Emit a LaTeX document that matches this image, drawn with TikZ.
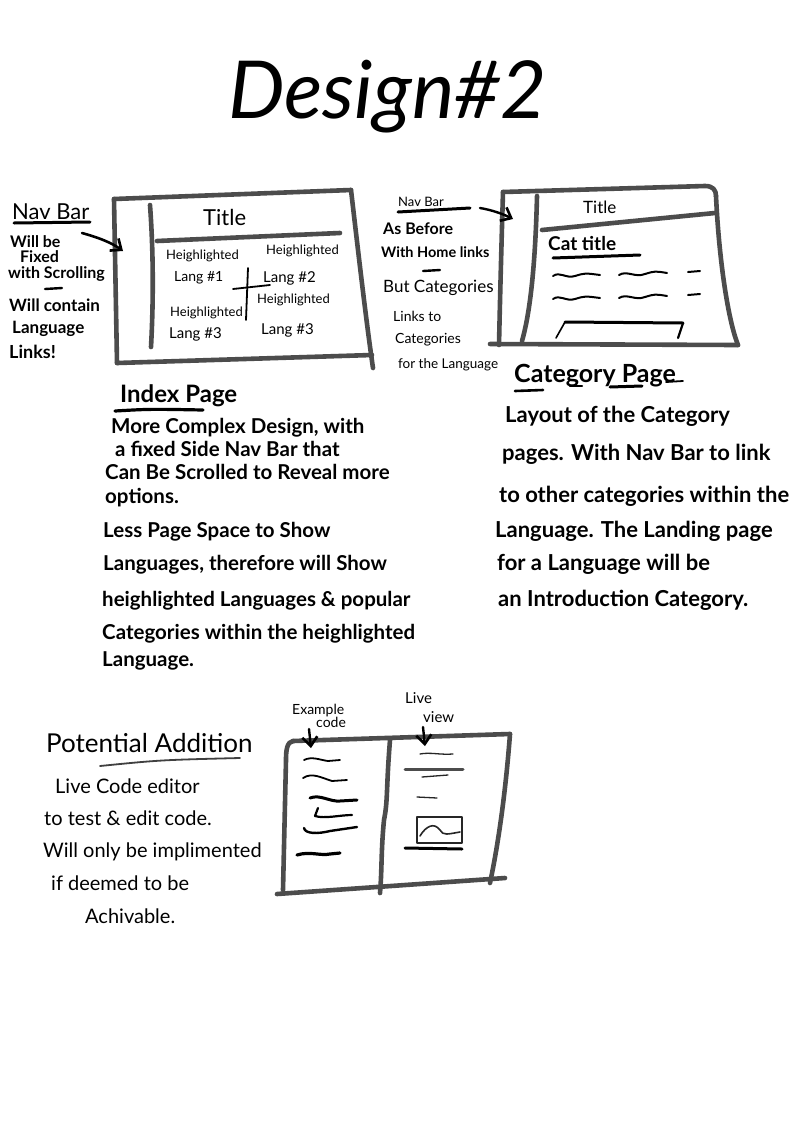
\documentclass[tikz,border=0pt]{standalone}
\usepackage{fontspec}
\setmainfont{Lato}
\usetikzlibrary{arrows.meta}
\newcommand{\fs}[1]{\fontsize{#1}{#1}\selectfont}
\begin{document}
\begin{tikzpicture}[x=1pt,y=-1pt,
  frame/.style={draw=black!70, line width=4.6pt, line cap=round, line join=round},
  ink/.style={draw=black, line width=2.4pt, line cap=round, line join=round},
  thin ink/.style={draw=black!85, line width=1.3pt, line cap=round, line join=round},
  barb/.style={-{Straight Barb[length=9pt,width=15pt,line width=2.6pt]}},
  txt/.style={anchor=base west, inner sep=0pt, text=black},
  note/.style={txt, font=\bfseries\fs{16}},
  small/.style={txt, font=\fs{13}},
  body/.style={txt, font=\bfseries\fs{20.5}},
  plain body/.style={txt, font=\fs{20}},
  heading/.style={txt, font=\bfseries\fs{24}}]
\useasboundingbox[fill=white] (0,0) rectangle (794,1122);

% ---------- title ----------
\node[txt, font=\fs{80}\itshape] (title) at (228,118) {Design\#2};

% ---------- index page wireframe ----------
\coordinate (b1tl) at (114,199);
\coordinate (b1tr) at (351,190);
\coordinate (b1br) at (373,368);
\coordinate (b1bl) at (117,363);
\draw[frame] (b1tl) -- (b1tr);
\draw[frame] (b1tl) -- (b1bl);
\draw[frame] (b1tr) .. controls (358,250) and (366,320) .. (b1br);
\draw[frame] (b1bl) -- (372,355);
\draw[frame] (150,205) .. controls (154,260) and (153,310) .. (151,347);
\draw[frame] (157,241) -- (340,233);
\node[txt, font=\fs{22}] (t1) at (203,225) {Title};
\node[small] (h1) at (166,259) {Heighlighted};
\node[small, font=\fs{14}] (l1) at (174,281) {Lang \#1};
\node[small] (h2) at (266,254) {Heighlighted};
\node[small, font=\fs{15}] (l2) at (263,282) {Lang \#2};
\node[small] (h3) at (170,316) {Heighlighted};
\node[small, font=\fs{15}] (l3) at (169,338) {Lang \#3};
\node[small] (h4) at (257,303) {Heighlighted};
\node[small, font=\fs{15}] (l4) at (261,334) {Lang \#3};
\coordinate (crossT) at (248,268);
\coordinate (crossB) at (246,320);
\coordinate (crossL) at (233,289);
\coordinate (crossR) at (270,285);
\draw[ink, line width=1.8pt] (crossT) -- (crossB);
\draw[ink, line width=1.8pt] (crossL) -- (crossR);

% nav bar notes, index page
\node[txt, font=\fs{22}] (nav1) at (12,219) {Nav Bar};
\draw[ink, line width=3pt] (14,223) -- (90,222);
\node[note] (n1a) at (10,247) {Will be};
\node[note] (n1b) at (20,262) {Fixed};
\node[note] (n1c) at (8,278) {with Scrolling};
\draw[ink] (45,289) -- (62,288);
\node[note, font=\bfseries\fs{17}] (n1d) at (9,311) {Will contain};
\node[note, font=\bfseries\fs{17}] (n1e) at (12,333) {Language};
\node[note, font=\bfseries\fs{18}] (n1f) at (9,358) {Links!};
\coordinate (arr1tail) at (82,233);
\coordinate (arr1head) at (123,251);
\draw[ink, barb, line width=2.6pt] (arr1tail) .. controls (100,238) and (112,243) .. (arr1head);

% ---------- category page wireframe ----------
\coordinate (b2tl) at (503,192);
\coordinate (b2tr) at (716,196);
\coordinate (b2br) at (738,345);
\coordinate (b2bl) at (499,345);
\draw[frame] (b2tl) -- (705,186) .. controls (713,186) and (716,190) .. (b2tr);
\draw[frame] (b2tr) .. controls (719,260) and (728,320) .. (b2br);
\draw[frame] (b2tl) .. controls (501,260) and (500,300) .. (b2bl);
\draw[frame] (490,344) -- (b2br);
\draw[frame] (537,196) .. controls (535,280) and (528,320) .. (522,341);
\draw[frame] (542,230) -- (715,213);
\node[txt, font=\fs{17}] (t2) at (583,213) {Title};
\node[txt, font=\bfseries\fs{19}] (cat) at (548,250) {Cat title};
\draw[ink, line width=3pt] (553,258) -- (640,255);
\foreach \y in {276,299}{
  \draw[ink, line width=2pt] (553,\y) .. controls (560,\y-5) and (566,\y+3) .. (575,\y) .. controls (585,\y-3) .. (600,\y-1);
  \draw[ink, line width=2pt] (619,\y-1) .. controls (627,\y-6) and (635,\y+2) .. (645,\y-2) .. controls (655,\y-5) .. (667,\y-3);
  \draw[ink, line width=2pt] (688,\y-4) -- (700,\y-5);
}
\draw[ink, line width=3pt] (565,322) -- (683,323);
\draw[ink, line width=1.6pt] (565,322) -- (556,338);
\draw[ink, line width=2.2pt] (683,323) -- (678,338);

% nav bar notes, category page
\node[small] (nav2) at (398,206) {Nav Bar};
\draw[ink, line width=3pt] (398,212) -- (470,208);
\node[note] (n2a) at (383,234) {As Before};
\node[note, font=\bfseries\fs{14.5}] (n2b) at (381,257) {With Home links};
\draw[ink] (423,271) -- (440,270);
\node[note, font=\fs{17}] (n2c) at (383,292) {But Categories};
\node[small, font=\fs{14}] (n2d) at (393,321) {Links to};
\node[small, font=\fs{14}] (n2e) at (395,343) {Categories};
\node[small, font=\fs{13.5}] (n2f) at (398,368) {for the Language};
\coordinate (arr2tail) at (480,208);
\coordinate (arr2head) at (513,219);
\draw[ink, barb, line width=2.4pt] (arr2tail) .. controls (492,210) and (503,214) .. (arr2head);

% ---------- index page description ----------
\node[heading] (ihead) at (120,402) {Index Page};
\draw[ink, line width=3.2pt] (115,411) .. controls (150,409) .. (203,410);
\node[body] (i1) at (111,433) {More Complex Design, with};
\node[body] (i2) at (115,456) {a fixed Side Nav Bar that};
\node[body] (i3) at (105,479) {Can Be Scrolled to Reveal more};
\node[body] (i4) at (105,503) {options.};
\node[body] (i5) at (103,537) {Less Page Space to Show};
\node[body] (i6) at (103,570) {Languages, therefore will Show};
\node[body] (i7) at (102,606) {heighlighted Languages \& popular};
\node[body] (i8) at (102,639) {Categories within the heighlighted};
\node[body] (i9) at (102,666) {Language.};

% ---------- category page description ----------
\node[heading, font=\bfseries\fs{25}] (chead) at (514,382) {Category Page};
\draw[ink, line width=2.6pt] (515,391) -- (543,390);
\draw[ink, line width=2.2pt] (570,386) -- (582,386);
\draw[ink, line width=3pt] (610,387) -- (642,386);
\draw[ink, line width=1.8pt] (666,382) -- (683,381);
\node[body, font=\bfseries\fs{22}] (c1) at (505,422) {Layout of the Category};
\node[body, font=\bfseries\fs{22}] (c2) at (502,460) {pages. With Nav Bar to link};
\node[body, font=\bfseries\fs{22}] (c3) at (499,502) {to other categories within the};
\node[body, font=\bfseries\fs{22}] (c4) at (495,537) {Language. The Landing page};
\node[body, font=\bfseries\fs{22}] (c5) at (497,570) {for a Language will be};
\node[body, font=\bfseries\fs{22}] (c6) at (498,606) {an Introduction Category.};

% ---------- potential addition ----------
\node[txt, font=\fs{26}] (phead) at (46,752) {Potential Addition};
\draw[draw=black!75, line width=1.8pt, line cap=round] (100,766) .. controls (160,760) .. (240,758);
\node[plain body] (p1) at (55,793) {Live Code editor};
\node[plain body] (p2) at (44,825) {to test \& edit code.};
\node[plain body] (p3) at (43,857) {Will only be implimented};
\node[plain body] (p4) at (51,890) {if deemed to be};
\node[plain body] (p5) at (85,923) {Achivable.};

% live editor wireframe
\coordinate (b3tl) at (293,741);
\coordinate (b3tr) at (510,734);
\coordinate (b3br) at (490,883);
\coordinate (b3bl) at (283,890);
\draw[frame] (b3tl) -- (b3tr);
\draw[frame] (b3tl) .. controls (287,742) and (286,750) .. (286,760) -- (b3bl);
\draw[frame] (277,894) -- (505,878);
\draw[frame] (b3tr) .. controls (505,800) and (497,850) .. (b3br);
\draw[frame] (390,740) .. controls (386,790) and (388,800) .. (384,820) .. controls (381,850) and (382,870) .. (380,893);
\node[small, font=\fs{14}] (ex) at (292,714) {Example};
\node[small, font=\fs{14}] (code) at (316,727) {code};
\node[small, font=\fs{15}] (live) at (405,703) {Live};
\node[small, font=\fs{15}] (view) at (423,722) {view};
\coordinate (exarr) at (311,748);
\coordinate (livearr) at (425,746);
\draw[ink, barb, line width=2.4pt] (309,729) -- (exarr);
\draw[ink, barb, line width=2.4pt] (423,727) -- (livearr);
% code lines
\draw[ink, line width=1.8pt] (304,760) .. controls (312,756) and (320,760) .. (328,761) -- (340,760);
\draw[ink, line width=1.8pt] (303,778) .. controls (312,772) and (322,778) .. (332,781) -- (347,780);
\draw[ink, line width=3pt] (310,798) .. controls (320,794) and (330,802) .. (340,801) -- (357,800);
\draw[ink, line width=2.2pt] (318,808) -- (315,816) .. controls (325,819) and (340,815) .. (352,815);
\draw[ink, line width=2.4pt] (304,828) .. controls (305,834) and (318,834) .. (330,831) -- (357,827);
\draw[ink, line width=3.2pt] (297,855) .. controls (310,851) and (320,856) .. (330,854) -- (340,853);
% preview
\draw[thin ink] (420,754) .. controls (430,752) and (440,755) .. (453,754);
\draw[draw=black!70, line width=3pt, line cap=round] (405,769) -- (463,769);
\draw[thin ink] (422,777) -- (448,775);
\draw[thin ink] (417,797) -- (437,798);
\draw[thin ink] (417,817) rectangle (462,843);
\draw[thin ink, line width=1.6pt] (420,836) .. controls (426,826) and (434,822) .. (440,830) .. controls (443,836) and (448,834) .. (460,832);
\draw[ink, line width=3pt] (405,848) -- (462,849);
\end{tikzpicture}
\end{document}
